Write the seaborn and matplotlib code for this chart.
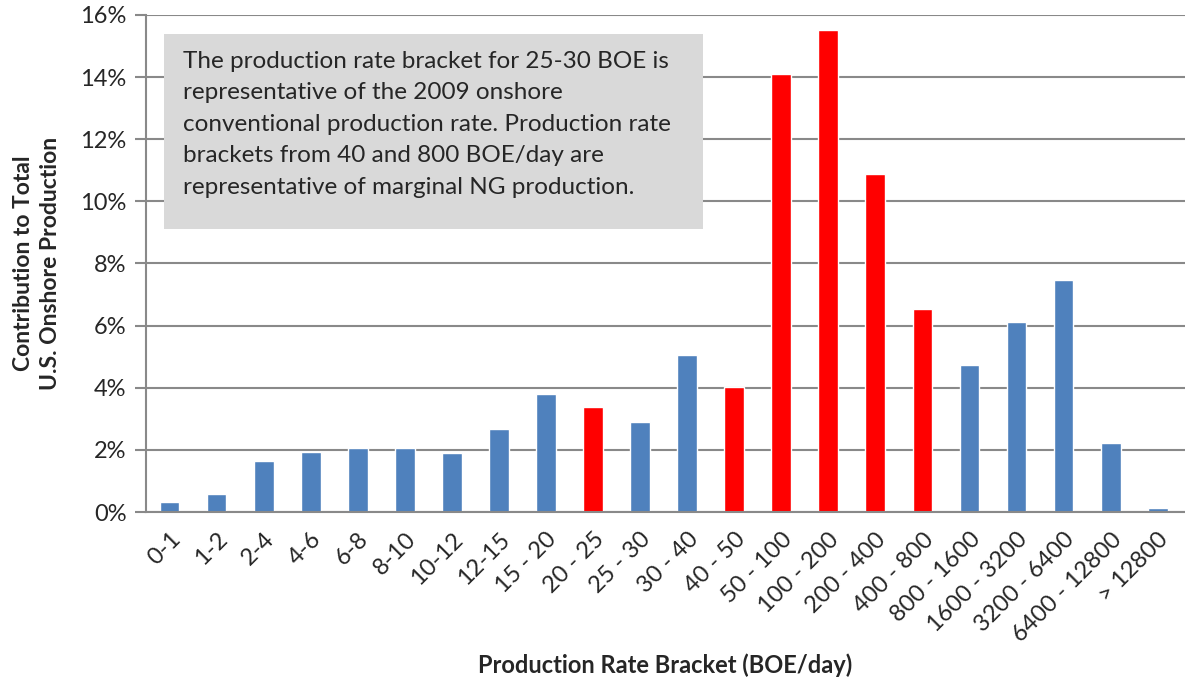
import numpy as np
import pandas as pd
import seaborn as sns
from matplotlib import pyplot as plt
from matplotlib.patches import Rectangle
from matplotlib.ticker import FuncFormatter

brackets = ['0-1', '1-2', '2-4', '4-6', '6-8', '8-10', '10-12', '12-15', '15 - 20',
            '20 - 25', '25 - 30', '30 - 40', '40 - 50', '50 - 100', '100 - 200',
            '200 - 400', '400 - 800', '800 - 1600', '1600 - 3200', '3200 - 6400',
            '6400 - 12800', '> 12800']
share = [0.32, 0.59, 1.63, 1.94, 2.07, 2.05, 1.91, 2.67, 3.80,
         3.37, 2.91, 5.05, 4.02, 14.1, 15.52,
         10.88, 6.52, 4.73, 6.12, 7.48,
         2.23, 0.12]
marginal = ['no'] * 9 + ['yes', 'no', 'no', 'yes', 'yes', 'yes', 'yes', 'yes'] + ['no'] * 5

note = ('The production rate bracket for 25-30 BOE is\n'
        'representative of the 2009 onshore\n'
        'conventional production rate. Production rate\n'
        'brackets from 40 and 800 BOE/day are\n'
        'representative of marginal NG production.')

df = pd.DataFrame({'bracket': brackets, 'share': share, 'marginal': marginal})

sns.set_style('white')
plt.rcParams['font.family'] = ['Lato', 'DejaVu Sans']

grey = '#898989'
fig = plt.figure(figsize=(11.85, 6.79), dpi=100)
ax = fig.add_axes([0.1232, 0.2459, 0.8768, 0.7321])

sns.barplot(data=df, x='bracket', y='share', hue='marginal',
            palette={'no': '#4f81bd', 'yes': '#ff0000'}, saturation=1,
            dodge=False, width=0.42, legend=False, ax=ax, zorder=3)

ax.set_xlim(-0.5, len(brackets) - 0.42)
ax.set_ylim(0, 16)
ax.set_yticks(np.arange(0, 17, 2))
ax.yaxis.set_major_formatter(FuncFormatter(lambda v, p: f'{v:.0f}%'))
ax.grid(axis='y', color=grey, linewidth=1.5, zorder=0)
ax.set_axisbelow(True)

for s in ['top', 'right']:
    ax.spines[s].set_visible(False)
for s in ['left', 'bottom']:
    ax.spines[s].set_color(grey)
    ax.spines[s].set_linewidth(1.5)
    ax.spines[s].set_zorder(4)

ax.set_xticks(np.arange(len(brackets)))
ax.set_xticklabels(brackets, rotation=45, ha='right', rotation_mode='anchor', fontsize=17)
ax.set_xticks(np.arange(-0.5, len(brackets), 1), minor=True)
ax.tick_params(axis='x', which='major', length=0, pad=12)
ax.tick_params(axis='x', which='minor', length=7, width=1.5, color=grey, direction='out')
ax.tick_params(axis='y', length=8, width=1.5, color=grey, direction='out', labelsize=17,
               left=True, pad=6)

ax.set_xlabel('Production Rate Bracket (BOE/day)', fontsize=17, fontweight='bold', labelpad=6)
ax.set_ylabel('Contribution to Total\nU.S. Onshore Production', fontsize=16.5,
              fontweight='bold', labelpad=14, linespacing=1.35)

ax.add_patch(Rectangle((0.0173, 0.569), 0.519, 0.393, transform=ax.transAxes,
                       facecolor='#d9d9d9', edgecolor='none', zorder=5))
ax.text(0.0356, 0.928, note, transform=ax.transAxes, fontsize=17.5, va='top', ha='left',
        linespacing=1.62, zorder=6)

fig.savefig('out.png', dpi=100)
